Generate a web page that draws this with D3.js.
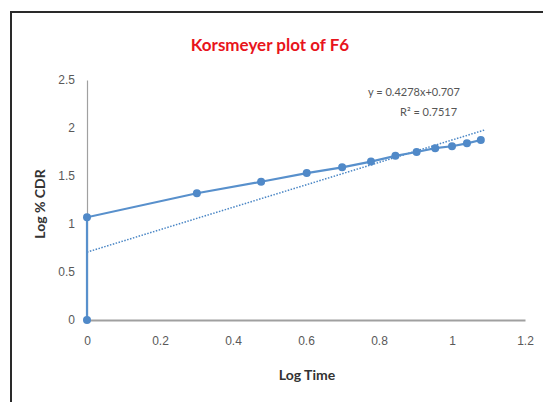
<!DOCTYPE html>
<html>
<head>
<meta charset="utf-8">
<script src="https://cdn.jsdelivr.net/npm/d3@7"></script>
<style>
  html, body { margin: 0; padding: 0; background: #fff; }
  svg { display: block; font-family: Lato, "Open Sans", sans-serif; }
</style>
</head>
<body>
<div id="chart"></div>
<script>
// Korsmeyer plot — log time vs log % CDR, with dotted linear trendline
const logTime = [0, 0, 0.301, 0.477, 0.602, 0.699, 0.778, 0.845, 0.903, 0.954, 1.0, 1.041, 1.079];
const logCDR  = [0, 1.07, 1.32, 1.44, 1.53, 1.59, 1.65, 1.71, 1.75, 1.79, 1.81, 1.84, 1.875];
const trendX  = [0, 1.09];
const trendY  = [0.707, 1.98];
const xTicks  = [0, 0.2, 0.4, 0.6, 0.8, 1, 1.2];
const yTicks  = [0, 0.5, 1, 1.5, 2, 2.5];
const equation = "y = 0.4278x+0.707";
const rSquared = "R² = 0.7517";

const W = 543, H = 402;
const svg = d3.select("#chart").append("svg").attr("width", W).attr("height", H);

// outer chart border (cropped on right/bottom)
svg.append("path")
    .attr("d", `M11,${H} L11,12 L${W},12`)
    .attr("fill", "none").attr("stroke", "#2a2a2a").attr("stroke-width", 2);

const x = d3.scaleLinear().domain([0, 1.2]).range([87, 525]);
const y = d3.scaleLinear().domain([0, 2.5]).range([320, 80]);

// axes
const xAxis = svg.append("g").attr("transform", `translate(0,${y(0)})`)
    .call(d3.axisBottom(x).tickValues(xTicks).tickSize(0).tickPadding(16).tickFormat(d3.format("")));
xAxis.select(".domain").attr("stroke", "#a0a0a0").attr("stroke-width", 2);

const yAxis = svg.append("g").attr("transform", `translate(${x(0)},0)`)
    .call(d3.axisLeft(y).tickValues(yTicks).tickSize(0).tickPadding(12).tickFormat(d3.format("")));
yAxis.select(".domain").attr("stroke", "#a0a0a0").attr("stroke-width", 1.2);

svg.selectAll(".tick text").attr("fill", "#595959").attr("font-size", 12);

// trendline
svg.append("line")
    .attr("x1", x(trendX[0])).attr("y1", y(trendY[0]))
    .attr("x2", x(trendX[1])).attr("y2", y(trendY[1]))
    .attr("stroke", "#4a86c5").attr("stroke-width", 1.5)
    .attr("stroke-dasharray", "1.5,1.5");

// data series
const pts = logTime.map((t, i) => [t, logCDR[i]]);
svg.append("path")
    .datum(pts)
    .attr("fill", "none")
    .attr("stroke", "#5890cc").attr("stroke-width", 2.2)
    .attr("d", d3.line().x(d => x(d[0])).y(d => y(d[1])));

svg.selectAll(".pt").data(pts).join("circle")
    .attr("class", "pt")
    .attr("cx", d => x(d[0])).attr("cy", d => y(d[1]))
    .attr("r", 4).attr("fill", "#5089c8");

// title
svg.append("text").attr("x", 270).attr("y", 51)
    .attr("text-anchor", "middle").attr("fill", "#e8141c")
    .attr("font-size", 17).attr("font-weight", "bold")
    .text("Korsmeyer plot of F6");

// trendline labels
svg.append("text").attr("x", 368).attr("y", 96)
    .attr("fill", "#555").attr("font-size", 11).text(equation);
svg.append("text").attr("x", 400).attr("y", 116)
    .attr("fill", "#555").attr("font-size", 11).text(rSquared);

// axis titles
svg.append("text").attr("x", 307).attr("y", 380)
    .attr("text-anchor", "middle").attr("font-size", 14).attr("font-weight", "bold")
    .attr("fill", "#333").text("Log Time");
svg.append("text").attr("transform", "translate(45,204) rotate(-90)")
    .attr("text-anchor", "middle").attr("font-size", 14).attr("font-weight", "bold")
    .attr("fill", "#333").text("Log % CDR");
</script>
</body>
</html>
